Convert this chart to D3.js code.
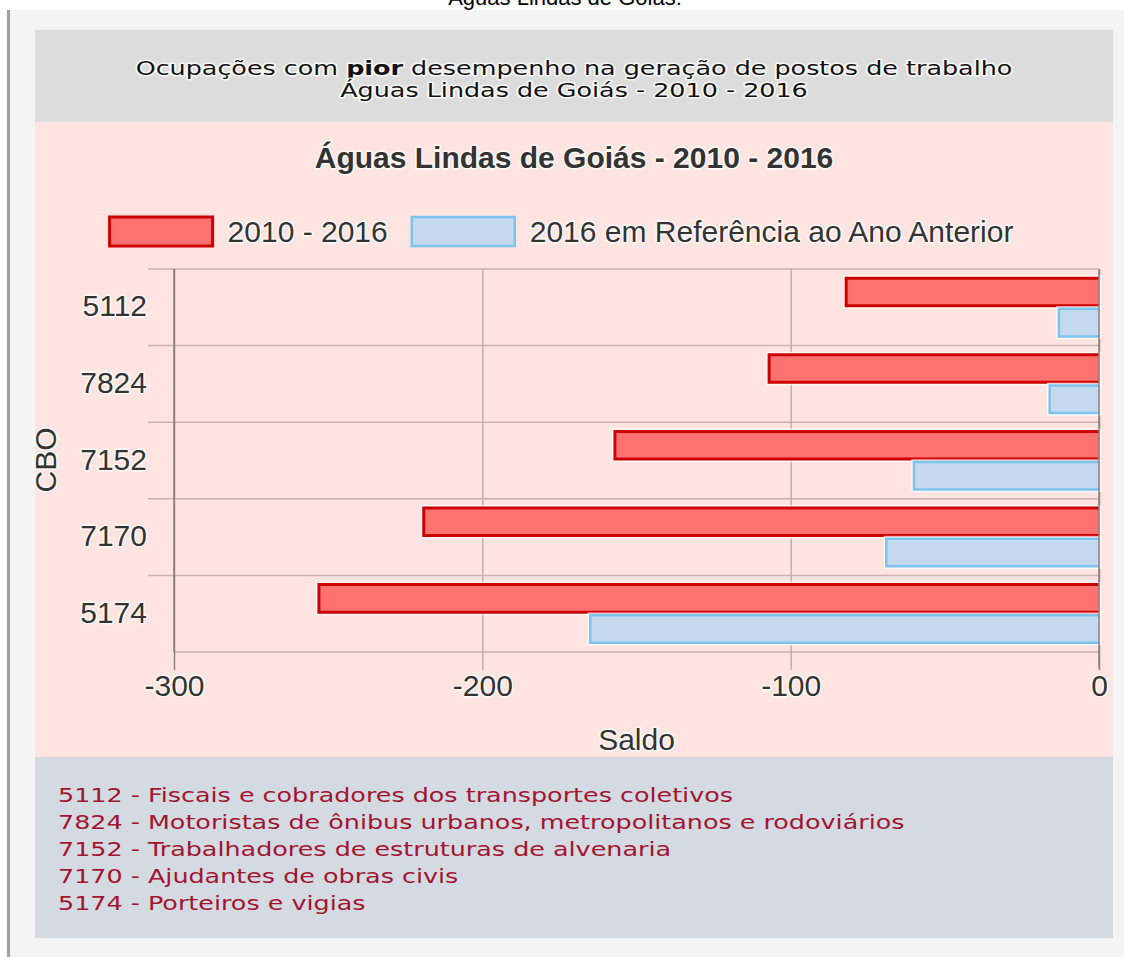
<!DOCTYPE html>
<html lang="pt-BR">
<head>
<meta charset="UTF-8">
<title>Ocupações com pior desempenho - Águas Lindas de Goiás</title>
<script src="https://d3js.org/d3.v7.min.js"></script>
<style>
  body { margin: 0; background: #fff; }
  .halo { paint-order: stroke; stroke: #fff; stroke-width: 3px; stroke-linejoin: round; stroke-opacity: 0.8; }
  .chart-text { font-family: "Liberation Sans", Arial, sans-serif; fill: #333; }
  .box-text { font-family: "DejaVu Sans", Verdana, sans-serif; }
</style>
</head>
<body>
<div id="grafico"></div>
<script>
const largura = 1124, altura = 957;

// dados
const cbo = ["5112", "7824", "7152", "7170", "5174"];
const saldoPeriodo = [-82, -107, -157, -219, -253];
const saldoAnoAnterior = [-13, -16, -60, -69, -165];
const series = ["2010 - 2016", "2016 em Referência ao Ano Anterior"];
const ticksX = [-300, -200, -100, 0];
const descricoes = [
  "Fiscais e cobradores dos transportes coletivos",
  "Motoristas de ônibus urbanos, metropolitanos e rodoviários",
  "Trabalhadores de estruturas de alvenaria",
  "Ajudantes de obras civis",
  "Porteiros e vigias"
];

const cores = [
  { fill: "#ff7270", stroke: "#cc0000", width: 3 },
  { fill: "#c4d9ee", stroke: "#7cc4ee", width: 2.5 }
];
const fonteGrafico = "30px";
const esticar = 1.27; // o texto das caixas aparece esticado na horizontal

const svg = d3.select("#grafico").append("svg")
  .attr("width", largura)
  .attr("height", altura);

// texto cortado no topo
svg.append("text")
  .attr("x", 565).attr("y", 5)
  .attr("text-anchor", "middle")
  .style("font", "22px 'Liberation Sans', Arial, sans-serif")
  .text("Águas Lindas de Goiás:");

// painel de fundo
svg.append("rect").attr("x", 10).attr("y", 10).attr("width", 1114).attr("height", 947).attr("fill", "#f4f4f4");
svg.append("rect").attr("x", 7).attr("y", 10).attr("width", 3).attr("height", 947).attr("fill", "#a0a0a0");

// caixa do titulo
svg.append("rect").attr("x", 35).attr("y", 30).attr("width", 1078).attr("height", 92).attr("fill", "#dcdcdc");
const titulo1 = svg.append("text")
  .attr("class", "box-text halo")
  .attr("transform", `translate(574,75) scale(${esticar},1)`)
  .attr("text-anchor", "middle")
  .style("font-size", "20px")
  .attr("fill", "#111");
titulo1.append("tspan").text("Ocupações com ");
titulo1.append("tspan").attr("font-weight", "bold").text("pior");
titulo1.append("tspan").text(" desempenho na geração de postos de trabalho");
svg.append("text")
  .attr("class", "box-text halo")
  .attr("transform", `translate(574,97) scale(${esticar},1)`)
  .attr("text-anchor", "middle")
  .style("font-size", "20px")
  .attr("fill", "#111")
  .text("Águas Lindas de Goiás - 2010 - 2016");

// area do grafico
svg.append("rect").attr("x", 35).attr("y", 122).attr("width", 1078).attr("height", 635).attr("fill", "#ffe4e1");

svg.append("text")
  .attr("class", "chart-text halo")
  .attr("x", 574).attr("y", 168)
  .attr("text-anchor", "middle")
  .style("font-size", fonteGrafico)
  .style("font-weight", "bold")
  .text("Águas Lindas de Goiás - 2010 - 2016");

// escalas
const x = d3.scaleLinear().domain([-300, 0]).range([174, 1099]);
const y = d3.scaleBand().domain(cbo).range([269, 652]);
const ySerie = d3.scaleBand().domain(series)
  .range([0.1 * y.bandwidth(), 0.9 * y.bandwidth()])
  .paddingInner(0.1).paddingOuter(0.05);

const grade = svg.append("g");

// linhas das categorias
grade.selectAll("line.cat")
  .data(cbo)
  .join("line")
  .attr("class", "cat")
  .attr("x1", 148).attr("x2", x(0))
  .attr("y1", d => y(d)).attr("y2", d => y(d))
  .attr("stroke", "#c9b2af").attr("stroke-width", 1.5);
grade.append("line")
  .attr("x1", x(-300)).attr("x2", x(0))
  .attr("y1", y.range()[1]).attr("y2", y.range()[1])
  .attr("stroke", "#c9b2af").attr("stroke-width", 1.5);

// eixo x
const eixoX = svg.append("g")
  .attr("transform", `translate(0,${y.range()[0]})`)
  .call(d3.axisBottom(x).tickValues(ticksX).tickSize(401).tickPadding(5)
    .tickFormat(d => String(d)));
eixoX.select(".domain").remove();
eixoX.selectAll(".tick line")
  .attr("stroke", d => (d === -300 || d === 0) ? "#8c8280" : "#c4aeab")
  .attr("stroke-width", 1.5);
eixoX.selectAll(".tick text")
  .attr("class", "chart-text halo")
  .style("font-size", fonteGrafico);

// barras
const dados = cbo.map((c, i) => ({ cbo: c, valores: [saldoPeriodo[i], saldoAnoAnterior[i]] }));
const grupos = svg.append("g").selectAll("g")
  .data(dados)
  .join("g")
  .attr("transform", d => `translate(0,${y(d.cbo)})`);

const barras = grupos.selectAll("g.bar")
  .data(d => d.valores.map((v, j) => ({ serie: series[j], valor: v, j: j })))
  .join("g")
  .attr("class", "bar");

// halo branco em volta das barras
barras.append("rect")
  .attr("x", d => x(d.valor))
  .attr("y", d => ySerie(d.serie))
  .attr("width", d => x(0) - x(d.valor))
  .attr("height", ySerie.bandwidth())
  .attr("fill", "none")
  .attr("stroke", "#fff")
  .attr("stroke-opacity", 0.7)
  .attr("stroke-width", d => cores[d.j].width + 3);
barras.append("rect")
  .attr("x", d => x(d.valor))
  .attr("y", d => ySerie(d.serie))
  .attr("width", d => x(0) - x(d.valor))
  .attr("height", ySerie.bandwidth())
  .attr("fill", d => cores[d.j].fill);
barras.append("path")
  .attr("d", d => {
    const x0 = x(0), x1 = x(d.valor), y0 = ySerie(d.serie), y1 = y0 + ySerie.bandwidth();
    return `M${x0},${y0}H${x1}V${y1}H${x0}`;
  })
  .attr("fill", "none")
  .attr("stroke", d => cores[d.j].stroke)
  .attr("stroke-width", d => cores[d.j].width);

// eixo y: linhas laterais
svg.append("line")
  .attr("x1", x(-300)).attr("x2", x(-300))
  .attr("y1", y.range()[0]).attr("y2", y.range()[1])
  .attr("stroke", "#8c8280").attr("stroke-width", 1.5);
svg.append("line")
  .attr("x1", x(0)).attr("x2", x(0))
  .attr("y1", y.range()[0]).attr("y2", y.range()[1] + 16)
  .attr("stroke", "#8c8280").attr("stroke-width", 1.5);

// rotulos das categorias
svg.append("g").selectAll("text")
  .data(cbo)
  .join("text")
  .attr("class", "chart-text halo")
  .attr("x", 147)
  .attr("y", d => y(d) + y.bandwidth() / 2)
  .attr("dy", "0.3em")
  .attr("text-anchor", "end")
  .style("font-size", fonteGrafico)
  .text(d => d);

// titulos dos eixos
svg.append("text")
  .attr("class", "chart-text halo")
  .attr("transform", "translate(56,460) rotate(-90)")
  .attr("text-anchor", "middle")
  .style("font-size", fonteGrafico)
  .text("CBO");
svg.append("text")
  .attr("class", "chart-text halo")
  .attr("x", (x(-300) + x(0)) / 2).attr("y", 750)
  .attr("text-anchor", "middle")
  .style("font-size", fonteGrafico)
  .text("Saldo");

// legenda
const legenda = svg.append("g");
const itens = legenda.selectAll("g")
  .data(series)
  .join("g");
itens.append("rect")
  .attr("width", 103).attr("height", 29)
  .attr("fill", (d, i) => cores[i].fill)
  .attr("stroke", (d, i) => cores[i].stroke)
  .attr("stroke-width", (d, i) => cores[i].width);
itens.append("text")
  .attr("class", "chart-text halo")
  .attr("x", 118).attr("y", 14).attr("dy", "0.35em")
  .style("font-size", fonteGrafico)
  .text(d => d);
let posX = 0;
itens.each(function () {
  const w = 118 + this.querySelector("text").getComputedTextLength();
  d3.select(this).attr("transform", `translate(${posX},0)`);
  posX += w + 24;
});
legenda.attr("transform", `translate(${561.5 - (posX - 24) / 2},217)`);

// rodape com descricoes
svg.append("rect").attr("x", 35).attr("y", 757).attr("width", 1078).attr("height", 181).attr("fill", "#d3dae2");
svg.append("g").selectAll("text")
  .data(cbo)
  .join("text")
  .attr("class", "box-text")
  .attr("transform", (d, i) => `translate(58,${802 + i * 27}) scale(${esticar},1)`)
  .style("font-size", "20px")
  .attr("fill", "#a3142f")
  .text((d, i) => `${d} - ${descricoes[i]}`);
</script>
</body>
</html>
